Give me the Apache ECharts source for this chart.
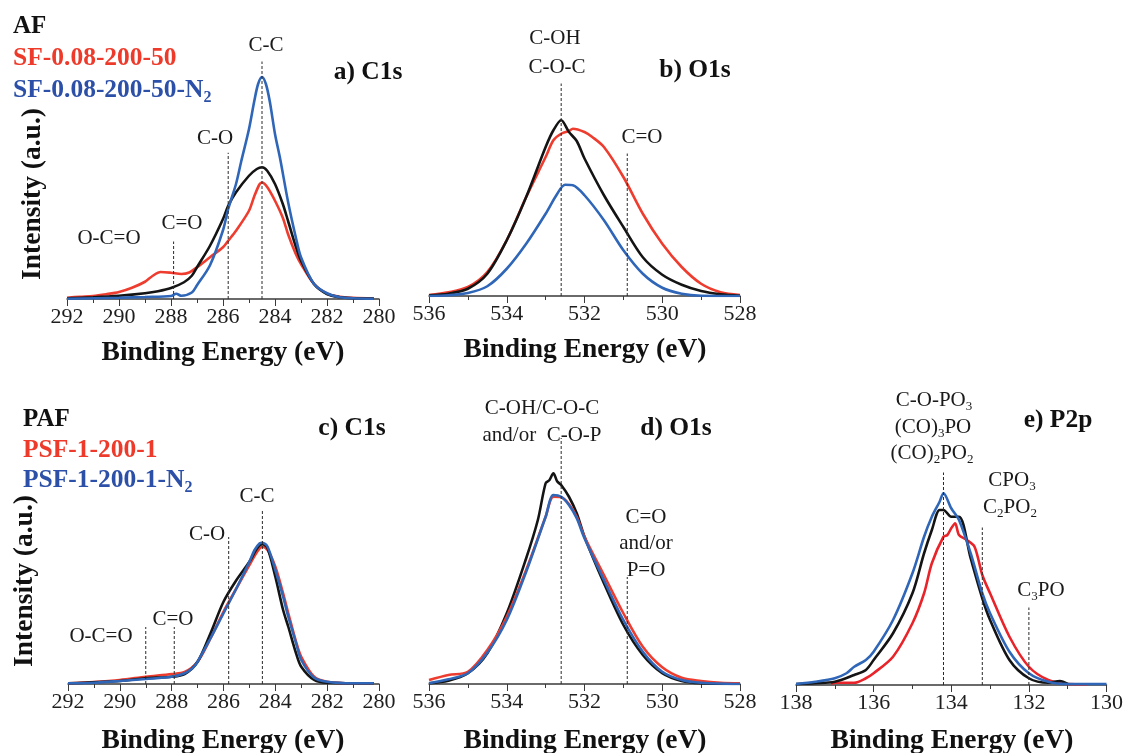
<!DOCTYPE html>
<html>
<head>
<meta charset="utf-8">
<script src="https://cdn.jsdelivr.net/npm/echarts@6/dist/echarts.min.js"></script>
<style>
  html, body { margin: 0; padding: 0; background: #fff; }
  #chart { width: 1126px; height: 753px; }
</style>
</head>
<body>
<div id="chart"></div>
<script>
// XPS spectra, [binding energy (eV), intensity (a.u.)]

// a) C1s
const c1sAF = [[292,0.3],[291,0.7],[290,1.3],[289,2.3],[288.5,3.1],[288,4.4],[287.5,6.7],[287.2,9.3],[287,12.7],[286.5,21.3],[286,32],[285.8,37.3],[285.5,42.7],[285,49.3],[284.7,52],[284.5,52.7],[284.3,51.3],[284,46],[283.7,38],[283.5,31.3],[283.2,21],[283,15.3],[282.5,6],[282,2],[281.5,0.7],[281,0.3],[280.2,0.2]];
const c1sSF = [[292,0.5],[291.5,0.9],[291,1.2],[290.5,1.9],[290,2.8],[289.5,4.5],[289,6.9],[288.7,9.3],[288.4,10.8],[288,10.5],[287.6,10],[287.3,10.6],[287,12.7],[286.5,16.7],[286,20.7],[285.8,23.3],[285.5,27.3],[285,35.3],[284.8,41],[284.6,45.8],[284.5,46.6],[284.3,44.8],[284,39.3],[283.7,32.5],[283.5,26],[283.2,18],[283,14],[282.5,6],[282,2.1],[281.5,0.9],[281,0.5],[280.2,0.2]];
const c1sSFN2 = [[292,0.1],[290,0.5],[289,0.8],[288,1.2],[287.8,2.1],[287.6,1.3],[287.2,2.6],[287,5.5],[286.5,13.5],[286,27.5],[285.8,36],[285.5,46],[285.3,55],[285,68],[284.8,79],[284.65,86],[284.5,88.8],[284.35,86],[284.2,79],[284,66],[283.8,56],[283.5,39],[283.2,24.7],[283,16.7],[282.5,6],[282,2.3],[281.5,0.7],[281,0.3],[280.2,0.1]];

// b) O1s
const o1sAF = [[536,0.3],[535.5,0.9],[535,2.9],[534.5,8.9],[534,22.3],[533.5,39.6],[533,59.6],[532.8,66.3],[532.6,70.3],[532.4,65.6],[532.2,62],[532,55],[531.5,40.3],[531,27.6],[530.5,15.5],[530,8.5],[529.5,4.5],[529,2],[528.5,0.7],[528,0.1]];
const o1sSF = [[536,0.4],[535.5,1.5],[535,3.6],[534.5,9.6],[534,22.3],[533.5,39.6],[533,55.6],[532.8,62.3],[532.6,64.9],[532.4,66],[532.3,66.9],[532,65.6],[531.8,63.6],[531.5,59.6],[531,47.6],[530.5,32.9],[530,20.9],[529.5,11.6],[529,4.9],[528.5,1.5],[528,0.4]];
const o1sSFN2 = [[536,0],[535.5,0.3],[535,1.2],[534.5,3.9],[534,10.9],[533.5,20.9],[533,32.9],[532.7,40.9],[532.5,44.5],[532.3,44.3],[532,40.3],[531.5,30.3],[531,18.3],[530.5,8.9],[530,3.3],[529.5,0.9],[529,0.1],[528,0]];

// c) C1s
const c1sPAF = [[292,0.3],[290,1.2],[289,2.3],[288,2.9],[287.5,4],[287,8.9],[286.5,20.3],[286,32.9],[285.5,41.6],[285,48.9],[284.7,54.3],[284.5,55.9],[284.3,54.3],[284,42.9],[283.7,29.6],[283.5,22.9],[283.2,12.3],[283,6.9],[282.5,1.6],[282,0.5],[280.2,0.3]];
const c1sPSF = [[292,0.3],[291,0.8],[290,1.6],[289,2.9],[288,4],[287.5,4.8],[287,8.9],[286.5,18.3],[286,28.9],[285.5,38.3],[285,47.6],[284.7,52.9],[284.5,54.9],[284.3,53.6],[284,46.9],[283.7,36.3],[283.5,28.3],[283.2,16.9],[283,10.9],[282.5,2.9],[282,0.9],[281,0.3],[280.2,0.3]];
const c1sPSFN2 = [[292,0.3],[291,0.5],[290,1.2],[289,2],[288,2.9],[287.5,4.3],[287.2,6.3],[287,8.9],[286.5,18.3],[286,28.3],[285.5,38.3],[285,48.9],[284.8,53.6],[284.6,56.3],[284.5,56.5],[284.3,54.9],[284,45.6],[283.7,34.9],[283.5,26.9],[283.2,16.3],[283,9.6],[282.5,2.5],[282,0.9],[281,0.3],[280.2,0.3]];

// d) O1s
const o1sPAF = [[536,0.3],[535.5,1.3],[535,4.3],[534.5,12.3],[534,28.3],[533.5,50.3],[533.2,65.6],[533,80.3],[532.9,81.6],[532.8,84.3],[532.7,81],[532.6,79.6],[532.4,74.9],[532.2,68.3],[532,58.9],[531.5,40.3],[531,23.6],[530.5,11.6],[530,4.3],[529.5,1.2],[529,0.3],[528,0]];
const o1sPSF = [[536,1.6],[535.5,3.6],[535,4.9],[534.5,13.6],[534,26.9],[533.5,45.6],[533,66.9],[532.8,74.9],[532.6,74.7],[532.4,72],[532.2,66.9],[532,58.9],[531.5,43.6],[531,28.3],[530.5,14.9],[530,6.7],[529.5,2.5],[529,1.2],[528.5,0.5],[528,0.3]];
const o1sPSFN2 = [[536,0.3],[535.5,1.9],[535,4.3],[534.5,12.5],[534,25.6],[533.5,44.9],[533,66.9],[532.8,75.6],[532.6,74.9],[532.4,71.6],[532.2,66.3],[532,58.3],[531.5,41.6],[531,25.6],[530.5,12.9],[530,4.9],[529.5,1.6],[529,0.5],[528,0]];

// e) P2p
const p2pPAF = [[138,0.4],[137.5,0.7],[137,1.3],[136.5,4],[136.2,6],[136,10],[135.5,20.7],[135,36.7],[134.7,52.7],[134.5,62],[134.3,70],[134.2,70],[134,67.3],[133.8,67.3],[133.5,50.7],[133.2,34.7],[133,26],[132.5,10],[132,2.7],[131.5,0.9],[131.2,1.6],[131,0.4]];
const p2pPSF = [[137.1,0.4],[137,0.9],[136.5,0.9],[136.2,2.7],[136,4.7],[135.5,11.3],[135,24.7],[134.7,36.7],[134.5,48.7],[134.2,59.3],[134.1,60],[134,62.7],[133.9,64.7],[133.8,60],[133.6,58],[133.4,55.3],[133.2,44],[133,36.7],[132.5,19.3],[132,7.3],[131.5,2],[131,0.4],[130.5,0.3]];
const p2pPSFN2 = [[138,0.4],[137.5,1.3],[137,2.7],[136.7,4.7],[136.5,7.3],[136.2,10],[136,13.3],[135.5,26],[135,44.7],[134.7,59.3],[134.5,67.3],[134.3,73.3],[134.2,76.7],[134,70.7],[133.8,66],[133.5,52.7],[133.2,36.7],[133,28.7],[132.5,13.3],[132,4.7],[131.5,1.3],[131,0.4],[130,0.4]];

// Component reference energies (eV) and the heights their guide lines reach
const guideEnergyA = [284.5, 285.8, 287.9];
const guideHeightA = [95, 58.5, 23];
const guideEnergyB = [532.6, 530.9];
const guideHeightB = [85, 57];
const guideEnergyC = [284.5, 285.8, 287.9, 289.0];
const guideHeightC = [69.6, 58.8, 22.8, 22.8];
const guideEnergyD = [532.6, 530.9];
const guideHeightD = [98.4, 42.8];
const guideEnergyE = [134.2, 133.2, 132.0];
const guideHeightE = [85, 63, 31];

// Axis ranges (eV)
const rangeC1s = [280, 292];
const rangeO1s = [528, 536];
const rangeP2p = [130, 138];

const SERIF = '"Liberation Serif", "Times New Roman", serif';
const BLACK = '#141414';
const RED = '#ee3d2f';
const RED_E = '#e8242a';
const BLUE = '#2f66b8';

const grids = [
  { left: 67,  top: 49,  width: 312, height: 250 },
  { left: 429, top: 46,  width: 311, height: 250 },
  { left: 68,  top: 434, width: 311, height: 250 },
  { left: 429, top: 434, width: 311, height: 250 },
  { left: 796, top: 435, width: 312, height: 250 }
];
const ranges = [rangeC1s, rangeO1s, rangeC1s, rangeO1s, rangeP2p];

const xAxes = ranges.map((r, i) => ({
  type: 'value', gridIndex: i, min: r[0], max: r[1], interval: 2, inverse: true,
  axisLine: { show: true, onZero: false, lineStyle: { color: '#3a3a3a', width: 1.5 } },
  axisTick: { show: true, length: 7, lineStyle: { color: '#3a3a3a', width: 1 } },
  minorTick: { show: true, splitNumber: 2, length: 4, lineStyle: { color: '#3a3a3a', width: 1 } },
  splitLine: { show: false },
  minorSplitLine: { show: false },
  axisLabel: {
    show: true, margin: 7, fontFamily: SERIF, fontSize: 22, color: '#1e1e1e',
    showMinLabel: true, showMaxLabel: true, hideOverlap: false
  }
}));
const yAxes = ranges.map((r, i) => ({
  type: 'value', gridIndex: i, min: 0, max: 100, show: false
}));

function curve(g, data, color) {
  return {
    type: 'line', xAxisIndex: g, yAxisIndex: g, data: data,
    symbol: 'none', smooth: 0.3, silent: true, z: 2,
    lineStyle: { color: color, width: 2.6 }
  };
}
function guides(g, energies, heights) {
  return energies.map((e, k) => ({
    type: 'line', xAxisIndex: g, yAxisIndex: g,
    data: [[e, 0], [e, heights[k]]],
    symbol: 'none', silent: true, z: 4,
    lineStyle: { color: '#2a2a2a', width: 1, type: [3, 2] }
  }));
}

const series = [
  curve(0, c1sSF, RED), curve(0, c1sAF, BLACK), curve(0, c1sSFN2, BLUE),
  curve(1, o1sSF, RED), curve(1, o1sAF, BLACK), curve(1, o1sSFN2, BLUE),
  curve(2, c1sPSF, RED), curve(2, c1sPAF, BLACK), curve(2, c1sPSFN2, BLUE),
  curve(3, o1sPAF, BLACK), curve(3, o1sPSF, RED), curve(3, o1sPSFN2, BLUE),
  curve(4, p2pPSF, RED_E), curve(4, p2pPAF, BLACK), curve(4, p2pPSFN2, BLUE),
  ...guides(0, guideEnergyA, guideHeightA),
  ...guides(1, guideEnergyB, guideHeightB),
  ...guides(2, guideEnergyC, guideHeightC),
  ...guides(3, guideEnergyD, guideHeightD),
  ...guides(4, guideEnergyE, guideHeightE)
];

// text helpers
function label(x, y, text, extra) {
  return {
    type: 'text', x: x, y: y, silent: true, z: 10,
    style: Object.assign({
      text: text, fontFamily: SERIF, fontSize: 21, fill: '#1a1a1a',
      align: 'center', verticalAlign: 'middle'
    }, extra || {})
  };
}
function richLabel(x, y, text, size, weight, color, align) {
  return {
    type: 'text', x: x, y: y, silent: true, z: 10,
    style: {
      text: text, align: align || 'center', verticalAlign: 'middle',
      rich: {
        n: { fontFamily: SERIF, fontSize: size, fontWeight: weight, fill: color, lineHeight: size + 6 },
        s: { fontFamily: SERIF, fontSize: Math.round(size * 0.64), fontWeight: weight, fill: color, verticalAlign: 'bottom' }
      }
    }
  };
}
const bold = (size, color, align) => ({ fontSize: size, fontWeight: 'bold', fill: color || '#111', align: align || 'center' });

const graphic = [
  // legends
  label(13, 27, 'AF', bold(25, '#111', 'left')),
  label(13, 58, 'SF-0.08-200-50', bold(25.5, '#ee3a2a', 'left')),
  richLabel(13, 90, '{n|SF-0.08-200-50-N}{s|2}', 25.5, 'bold', '#2c50a8', 'left'),
  label(23, 420, 'PAF', bold(25, '#111', 'left')),
  label(23, 450, 'PSF-1-200-1', bold(25.5, '#ee3a2a', 'left')),
  richLabel(23, 480, '{n|PSF-1-200-1-N}{s|2}', 25.5, 'bold', '#2c50a8', 'left'),

  // panel titles
  label(368, 72, 'a) C1s', bold(25.5)),
  label(695, 70, 'b) O1s', bold(25.5)),
  label(352, 428, 'c) C1s', bold(25.5)),
  label(676, 428, 'd) O1s', bold(25.5)),
  label(1058, 420, 'e) P2p', bold(25.5)),

  // axis titles
  label(223, 353, 'Binding Energy (eV)', bold(27.5)),
  label(585, 350, 'Binding Energy (eV)', bold(27.5)),
  label(223, 741, 'Binding Energy (eV)', bold(27.5)),
  label(585, 741, 'Binding Energy (eV)', bold(27.5)),
  label(952, 741, 'Binding Energy (eV)', bold(27.5)),
  Object.assign(label(33, 194, 'Intensity (a.u.)', bold(27.5)), { rotation: Math.PI / 2 }),
  Object.assign(label(25, 581, 'Intensity (a.u.)', bold(27.5)), { rotation: Math.PI / 2 }),

  // a) component labels
  label(266, 45, 'C-C'),
  label(215, 138, 'C-O'),
  label(182, 223, 'C=O'),
  label(109, 238, 'O-C=O'),
  // b)
  label(555, 38, 'C-OH'),
  label(557, 67, 'C-O-C'),
  label(642, 137, 'C=O'),
  // c)
  label(257, 496, 'C-C'),
  label(207, 534, 'C-O'),
  label(173, 619, 'C=O'),
  label(101, 636, 'O-C=O'),
  // d)
  label(542, 408, 'C-OH/C-O-C'),
  label(542, 435, 'and/or  C-O-P'),
  label(646, 517, 'C=O'),
  label(646, 543, 'and/or'),
  label(646, 570, 'P=O'),
  // e)
  richLabel(934, 400, '{n|C-O-PO}{s|3}', 21, 'normal', '#1a1a1a'),
  richLabel(933, 427, '{n|(CO)}{s|3}{n|PO}', 21, 'normal', '#1a1a1a'),
  richLabel(932, 453, '{n|(CO)}{s|2}{n|PO}{s|2}', 21, 'normal', '#1a1a1a'),
  richLabel(1012, 480, '{n|CPO}{s|3}', 21, 'normal', '#1a1a1a'),
  richLabel(1010, 507, '{n|C}{s|2}{n|PO}{s|2}', 21, 'normal', '#1a1a1a'),
  richLabel(1041, 590, '{n|C}{s|3}{n|PO}', 21, 'normal', '#1a1a1a')
];

const chart = echarts.init(document.getElementById('chart'), null, { renderer: 'canvas' });
chart.setOption({
  backgroundColor: '#ffffff',
  animation: false,
  grid: grids,
  xAxis: xAxes,
  yAxis: yAxes,
  series: series,
  graphic: graphic
});
</script>
</body>
</html>
